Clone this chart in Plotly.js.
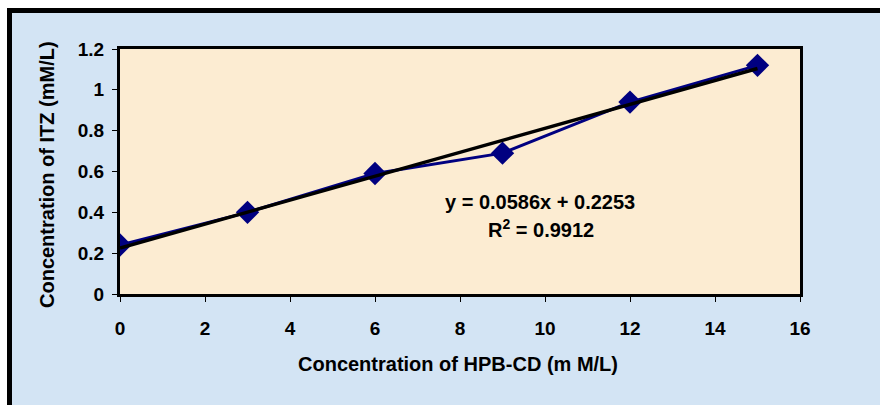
<!DOCTYPE html>
<html>
<head>
<meta charset="utf-8">
<script src="https://cdn.plot.ly/plotly-3.0.1.min.js"></script>
<style>
html,body{margin:0;padding:0;background:#ffffff;}
#chart{width:880px;height:405px;}
</style>
</head>
<body>
<div id="chart"></div>
<script>
// Data
var hpbConc = [0, 3, 6, 9, 12, 15];
var itzConc = [0.24, 0.40, 0.59, 0.69, 0.94, 1.12];
var slope = 0.0586;
var intercept = 0.2253;
var rSquared = 0.9912;
var trendX = [0, 15];
var trendY = trendX.map(function(x){ return slope * x + intercept; });
var xTickVals = [0, 2, 4, 6, 8, 10, 12, 14, 16];
var yTickVals = [0, 0.2, 0.4, 0.6, 0.8, 1, 1.2];
var yTickText = ['0', '0.2', '0.4', '0.6', '0.8', '1', '1.2'];

var W = 880, H = 405;
var mL = 120, mR = 80, mT = 49, mB = 111;
var pw = W - mL - mR, ph = H - mT - mB;
function px(x){ return (x - mL) / pw; }
function py(y){ return (H - mB - y) / ph; }

var font = 'Arial, "Liberation Sans", Helvetica, sans-serif';

var traces = [
  {
    x: hpbConc, y: itzConc, type: 'scatter', mode: 'lines+markers',
    line: {color: '#000080', width: 3},
    marker: {symbol: 'diamond', size: 18, color: '#000080'},
    hoverinfo: 'x+y'
  },
  {
    x: trendX, y: trendY, type: 'scatter', mode: 'lines',
    line: {color: '#000000', width: 3.5},
    hoverinfo: 'skip'
  }
];

var layout = {
  width: W, height: H,
  margin: {l: mL, r: mR, t: mT, b: mB, pad: 0},
  paper_bgcolor: '#d3e4f4',
  plot_bgcolor: '#fcecd2',
  showlegend: false,
  font: {family: font, color: '#000000'},
  xaxis: {
    range: [0, 16], tickvals: xTickVals, ticks: 'outside', ticklen: 5, tickwidth: 1,
    tickcolor: '#000', showgrid: false, zeroline: false,
    showline: true, linecolor: '#000', linewidth: 3, mirror: true,
    tickfont: {family: font, size: 19, color: '#000', weight: 'bold'},
    ticklabelstandoff: 10,
    fixedrange: true
  },
  yaxis: {
    range: [0, 1.2], tickvals: yTickVals, ticktext: yTickText, ticks: 'outside', ticklen: 5, tickwidth: 1,
    tickcolor: '#000', showgrid: false, zeroline: false,
    showline: true, linecolor: '#000', linewidth: 3, mirror: true,
    tickfont: {family: font, size: 19, color: '#000', weight: 'bold'},
    ticklabelstandoff: 4,
    fixedrange: true
  },
  annotations: [
    {xref: 'paper', yref: 'paper', x: px(540), y: py(202), showarrow: false,
     text: '<b>y = ' + slope.toFixed(4) + 'x + ' + intercept.toFixed(4) + '</b>',
     font: {family: font, size: 20, color: '#000'}, xanchor: 'center', yanchor: 'middle'},
    {xref: 'paper', yref: 'paper', x: px(541), y: py(229), showarrow: false,
     text: '<b>R<sup>2</sup> = ' + rSquared.toFixed(4) + '</b>',
     font: {family: font, size: 20, color: '#000'}, xanchor: 'center', yanchor: 'middle'},
    {xref: 'paper', yref: 'paper', x: px(458), y: py(364), showarrow: false,
     text: '<b>Concentration of HPB-CD (m M/L)</b>',
     font: {family: font, size: 20, color: '#000'}, xanchor: 'center', yanchor: 'middle'},
    {xref: 'paper', yref: 'paper', x: px(47), y: py(175), showarrow: false, textangle: -90,
     text: '<b>Concentration of ITZ (mM/L)</b>',
     font: {family: font, size: 20, color: '#000'}, xanchor: 'center', yanchor: 'middle'}
  ],
  shapes: [
    {type: 'rect', xref: 'paper', yref: 'paper', x0: px(-5), x1: px(W + 5), y0: py(8), y1: py(-5),
     fillcolor: '#ffffff', line: {width: 0}, layer: 'above'},
    {type: 'rect', xref: 'paper', yref: 'paper', x0: px(-5), x1: px(7), y0: py(H + 5), y1: py(-5),
     fillcolor: '#ffffff', line: {width: 0}, layer: 'above'},
    {type: 'line', xref: 'paper', yref: 'paper', x0: px(7), x1: px(W + 10), y0: py(10.5), y1: py(10.5),
     line: {color: '#000', width: 5}, layer: 'above'},
    {type: 'line', xref: 'paper', yref: 'paper', x0: px(9.5), x1: px(9.5), y0: py(8), y1: py(H + 10),
     line: {color: '#000', width: 5}, layer: 'above'}
  ]
};

Plotly.newPlot('chart', traces, layout, {staticPlot: true, displayModeBar: false});
</script>
</body>
</html>
